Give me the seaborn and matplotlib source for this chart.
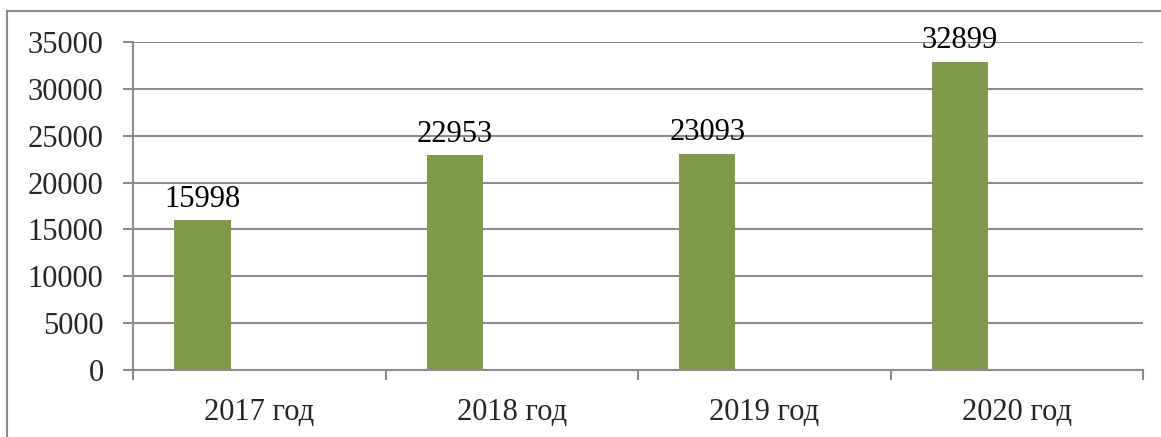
"""Bar chart of yearly totals, 2017-2020."""

import matplotlib.pyplot as plt
import matplotlib.patches as mpatches
import seaborn as sns
import numpy as np
import pandas as pd

# Data
years = ["2017 год", "2018 год", "2019 год", "2020 год"]
values = [15998, 22953, 23093, 32899]
y_ticks = [0, 5000, 10000, 15000, 20000, 25000, 30000, 35000]

BAR_COLOR = "#7F9B4A"
GRID_COLOR = "#8C8C8C"

sns.set_style("white")
plt.rcParams["font.family"] = ["Liberation Serif", "DejaVu Serif"]

df = pd.DataFrame({"year": years, "value": values})
# bars sit in the left half of each category slot (Excel-style empty 2nd series)
df["pos"] = np.arange(len(years)) - 0.225

fig = plt.figure(figsize=(11.61, 4.37), dpi=100)
ax = fig.add_axes([0.1146, 0.1533, 0.8699, 0.7506])

sns.barplot(
    data=df, x="pos", y="value", native_scale=True, width=0.222,
    color=BAR_COLOR, saturation=1, edgecolor="none", ax=ax,
)

# value labels above bars
for p, v in zip(df["pos"], df["value"]):
    ax.annotate(str(v), (p, v), xytext=(0, 4.5), textcoords="offset points",
                ha="center", va="bottom", fontsize=22, color="black")

ax.set_ylim(0, 35000)
ax.set_yticks(y_ticks)
ax.set_xlim(-0.5, len(years) - 0.5)
ax.set_xticks(np.arange(len(years)))
ax.set_xticklabels(years)
ax.set_xticks(np.arange(len(years) + 1) - 0.5, minor=True)
ax.set_xlabel("")
ax.set_ylabel("")

ax.yaxis.grid(True, color=GRID_COLOR, linewidth=1.5)
ax.set_axisbelow(True)
for side in ["top", "right"]:
    ax.spines[side].set_visible(False)
for side in ["left", "bottom"]:
    ax.spines[side].set_color(GRID_COLOR)
    ax.spines[side].set_linewidth(1.5)

ax.tick_params(axis="y", which="major", length=7.2, width=1.5, color=GRID_COLOR,
               direction="out", pad=14, labelsize=22, left=True)
ax.tick_params(axis="x", which="major", length=0, pad=20.5, labelsize=22)
ax.tick_params(axis="x", which="minor", length=7.2, width=1.5, color=GRID_COLOR,
               direction="out", bottom=True)

# outer chart frame
frame = mpatches.Rectangle((7 / 1161, -0.5), 1.5, 0.5 + 1 - 11 / 437,
                           transform=fig.transFigure, fill=False,
                           edgecolor=GRID_COLOR, linewidth=1.5)
fig.patches.append(frame)

fig.savefig("out.png", dpi=100)
